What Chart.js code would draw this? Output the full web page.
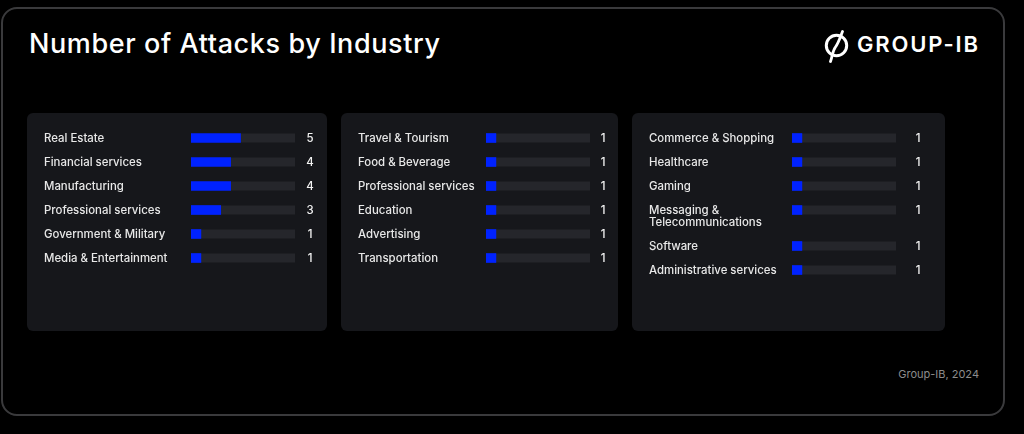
<!DOCTYPE html>
<html>
<head>
<meta charset="utf-8">
<script src="https://cdn.jsdelivr.net/npm/chart.js@4.4.1/dist/chart.umd.min.js"></script>
<style>
  html, body { margin: 0; padding: 0; background: #000; }
  body { width: 1024px; height: 434px; position: relative; overflow: hidden; font-family: Inter, "Noto Sans", sans-serif; }
  .frame { position: absolute; left: 1px; top: 7px; width: 1004px; height: 409px; box-sizing: border-box; border: 2px solid #3a3a3c; border-radius: 16px; }
  .title { position: absolute; left: 29px; top: 30px; font-size: 27px; line-height: 27px; color: #fff; font-weight: 500; white-space: nowrap; letter-spacing: 0.6px; }
  .logo-text { position: absolute; left: 857px; top: 33px; font-size: 22px; line-height: 22px; color: #fff; font-weight: 600; letter-spacing: 1.8px; white-space: nowrap; }
  .logo-icon { position: absolute; left: 823px; top: 30px; }
  .panel { position: absolute; top: 113px; height: 218px; background: #16171b; border-radius: 6px; }
  .panel canvas { position: absolute; left: 0; }
  .footer { position: absolute; right: 45px; top: 367px; font-size: 11px; line-height: 14px; color: #8c8c8c; white-space: nowrap; }
</style>
</head>
<body>
<div class="frame"></div>
<div class="title">Number of Attacks by Industry</div>
<svg class="logo-icon" width="28" height="34" viewBox="0 0 28 34">
  <circle cx="13.5" cy="15.5" r="10.2" fill="none" stroke="#fff" stroke-width="3"/>
  <path d="M7.5 31.5 C9.5 26 9.5 21 12.5 17 C15.5 13 17 8 19.5 1.5" fill="none" stroke="#fff" stroke-width="2.8" stroke-linecap="round"/>
</svg>
<div class="logo-text">GROUP-IB</div>

<div class="panel" style="left:27px;width:300px;"><canvas id="c1" width="300" height="218" style="top:0"></canvas></div>
<div class="panel" style="left:341px;width:277px;"><canvas id="c2" width="277" height="218" style="top:0"></canvas></div>
<div class="panel" style="left:632px;width:313px;">
  <canvas id="c3a" width="313" height="120" style="top:0"></canvas>
  <canvas id="c3b" width="313" height="98" style="top:120px"></canvas>
</div>
<div class="footer">Group-IB, 2024</div>

<script>
// ---- Data ----
const panel1Labels = ['Real Estate', 'Financial services', 'Manufacturing', 'Professional services', 'Government & Military', 'Media & Entertainment'];
const panel1Values = [5, 4, 4, 3, 1, 1];

const panel2Labels = ['Travel & Tourism', 'Food & Beverage', 'Professional services', 'Education', 'Advertising', 'Transportation'];
const panel2Values = [1, 1, 1, 1, 1, 1];

const panel3Labels = ['Commerce & Shopping', 'Healthcare', 'Gaming', ['Messaging &', 'Telecommunications'], 'Software', 'Administrative services'];
const panel3Values = [1, 1, 1, 1, 1, 1];

const scaleMax = 10.5;

// ---- Styling ----
const BLUE = '#0022ff';
const TRACK = '#25262b';
const LABEL_COLOR = '#e8e8e8';
const VALUE_COLOR = '#f2f2f2';
const FONT = '500 11.4px Inter, "Noto Sans", sans-serif';

const rowPlugin = {
  id: 'rows',
  beforeDatasetsDraw(chart, args, opts) {
    const ctx = chart.ctx;
    const area = chart.chartArea;
    const meta = chart.getDatasetMeta(0);
    ctx.save();
    ctx.fillStyle = TRACK;
    meta.data.forEach(bar => {
      const h = bar.height;
      ctx.fillRect(area.left, bar.y - h / 2, area.right - area.left, h);
    });
    ctx.restore();
  },
  afterDatasetsDraw(chart, args, opts) {
    const ctx = chart.ctx;
    const area = chart.chartArea;
    const meta = chart.getDatasetMeta(0);
    const labels = chart.data.labels;
    const values = chart.data.datasets[0].data;
    ctx.save();
    ctx.font = FONT;
    ctx.textBaseline = 'middle';
    meta.data.forEach((bar, i) => {
      const lab = labels[i];
      const lines = Array.isArray(lab) ? lab : [lab];
      const ty = bar.y + 1;
      ctx.fillStyle = LABEL_COLOR;
      ctx.textAlign = 'left';
      lines.forEach((ln, k) => ctx.fillText(ln, opts.labelX, ty + k * 12));
      ctx.fillStyle = VALUE_COLOR;
      ctx.textAlign = 'center';
      ctx.fillText(String(values[i]), area.right + opts.valueOffset, ty);
    });
    ctx.restore();
  }
};

function makeChart(id, labels, values, pad, valueOffset) {
  return new Chart(document.getElementById(id), {
    type: 'bar',
    data: {
      labels: labels,
      datasets: [{
        data: values,
        backgroundColor: BLUE,
        borderWidth: 0,
        barThickness: 9
      }]
    },
    options: {
      indexAxis: 'y',
      responsive: false,
      animation: false,
      devicePixelRatio: 1,
      layout: { padding: pad },
      scales: {
        x: { display: false, min: 0, max: scaleMax },
        y: { display: false }
      },
      plugins: {
        legend: { display: false },
        tooltip: { enabled: false },
        rows: { labelX: 17, valueOffset: valueOffset }
      }
    },
    plugins: [rowPlugin]
  });
}

makeChart('c1', panel1Labels, panel1Values, { left: 164, right: 32, top: 13, bottom: 61 }, 15);
makeChart('c2', panel2Labels, panel2Values, { left: 145, right: 28, top: 13, bottom: 61 }, 13);
makeChart('c3a', panel3Labels.slice(0, 4), panel3Values.slice(0, 4), { left: 160, right: 49, top: 13, bottom: 11 }, 22);
makeChart('c3b', panel3Labels.slice(4), panel3Values.slice(4), { left: 160, right: 49, top: 1, bottom: 49 }, 22);
</script>
</body>
</html>
